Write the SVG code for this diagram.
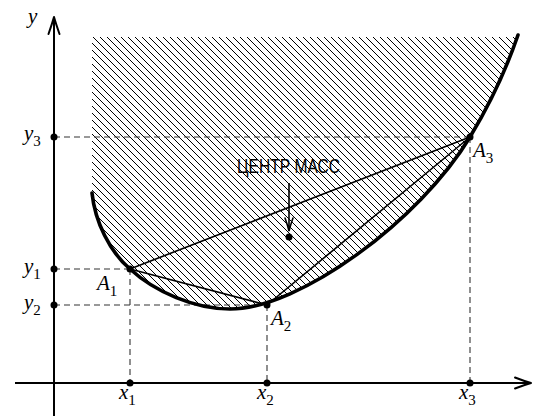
<svg xmlns="http://www.w3.org/2000/svg" width="537" height="416" viewBox="0 0 537 416">
<style>
.ax{stroke:#000;stroke-width:2;fill:none}
.hd{stroke:#000;stroke-width:2;fill:none;stroke-linecap:round;stroke-linejoin:round}
.dash{stroke:#333;stroke-width:1.1;stroke-dasharray:6,4;fill:none}
.curve{stroke:#000;stroke-width:3.6;fill:none;stroke-linecap:round}
.chord{stroke:#000;stroke-width:1.6;fill:none}
.lbl{font-family:"Liberation Serif","Times New Roman",serif;font-style:italic;font-size:21px;fill:#000}
.sub{font-family:"Liberation Serif","Times New Roman",serif;font-style:normal;font-size:15px;fill:#000}
.cm{font-family:"Liberation Sans",Arial,sans-serif;font-size:21px;fill:#000}
</style>
<defs>
<pattern id="hatch" patternUnits="userSpaceOnUse" width="7" height="7">
<path d="M-1 -1 L8 8 M-1 6 L1 8 M6 -1 L8 1" stroke="#000" stroke-width="1" shape-rendering="crispEdges"/>
</pattern>
<clipPath id="rg">
<path d="M92 37 L92 193 C95 222 110 252 130 269 C155 292 195 309 230 309 C300 309 420 220 470 137 C490 104 506 70 518 35 L518 37 Z"/>
</clipPath>
</defs>
<g id="hatching">
<rect x="77" y="28" width="455" height="294" fill="url(#hatch)" clip-path="url(#rg)"/>
</g>
<g id="axes">
<line class="ax" x1="54" y1="416" x2="54" y2="18"/>
<path class="hd" d="M48.5 34 Q52 24 54 17 Q56 24 59.5 34"/>
<line class="ax" x1="15" y1="383" x2="530" y2="383"/>
<path class="hd" d="M515 377.5 Q524 381 531 383 Q524 385 515 388.5"/>
<text class="lbl" x="28" y="23">y</text>
</g>
<g id="connectors">
<line class="dash" x1="54" y1="137" x2="470" y2="137"/>
<line class="dash" x1="54" y1="269" x2="130" y2="269"/>
<line class="dash" x1="54" y1="305" x2="267" y2="305"/>
<line class="dash" x1="130" y1="269" x2="130" y2="383"/>
<line class="dash" x1="267" y1="305" x2="267" y2="383"/>
<line class="dash" x1="470" y1="137" x2="470" y2="383"/>
<line class="chord" x1="130" y1="269" x2="267" y2="305"/>
<line class="chord" x1="267" y1="305" x2="470" y2="137"/>
<line class="chord" x1="130" y1="269" x2="470" y2="137"/>
</g>
<g id="curve">
<path class="curve" d="M92 193 C95 222 110 252 130 269 C155 292 195 309 230 309 C300 309 420 220 470 137 C490 104 506 70 518 35"/>
</g>
<g id="A1"><circle cx="130" cy="269" r="3.5"/><text class="lbl" x="97" y="290">A<tspan class="sub" dy="6">1</tspan></text></g>
<g id="A2"><circle cx="267" cy="305" r="3.5"/><text class="lbl" x="271" y="325">A<tspan class="sub" dy="6">2</tspan></text></g>
<g id="A3"><circle cx="470" cy="137" r="3.5"/><text class="lbl" x="473" y="157">A<tspan class="sub" dy="6">3</tspan></text></g>
<g id="y3"><circle cx="54" cy="137" r="3.5"/><text class="lbl" x="24" y="140">y<tspan class="sub" dy="6">3</tspan></text></g>
<g id="y1"><circle cx="54" cy="269" r="3.5"/><text class="lbl" x="24" y="273">y<tspan class="sub" dy="6">1</tspan></text></g>
<g id="y2"><circle cx="54" cy="305" r="3.5"/><text class="lbl" x="24" y="309">y<tspan class="sub" dy="6">2</tspan></text></g>
<g id="x1"><circle cx="130" cy="383" r="3.5"/><text class="lbl" x="119" y="399">x<tspan class="sub" dy="6">1</tspan></text></g>
<g id="x2"><circle cx="267" cy="383" r="3.5"/><text class="lbl" x="257" y="399">x<tspan class="sub" dy="6">2</tspan></text></g>
<g id="x3"><circle cx="470" cy="383" r="3.5"/><text class="lbl" x="459" y="399">x<tspan class="sub" dy="6">3</tspan></text></g>
<g id="center">
<text class="cm" x="237" y="173" textLength="103" lengthAdjust="spacingAndGlyphs">ЦЕНТР МАСС</text>
<line x1="289" y1="183" x2="289" y2="231" stroke="#000" stroke-width="1.6"/>
<path d="M285 218 Q287.5 225 289 231 Q290.5 225 293 218" stroke="#000" stroke-width="1.6" fill="none" stroke-linecap="round"/>
<circle cx="289" cy="237" r="3.5"/>
</g>
</svg>
